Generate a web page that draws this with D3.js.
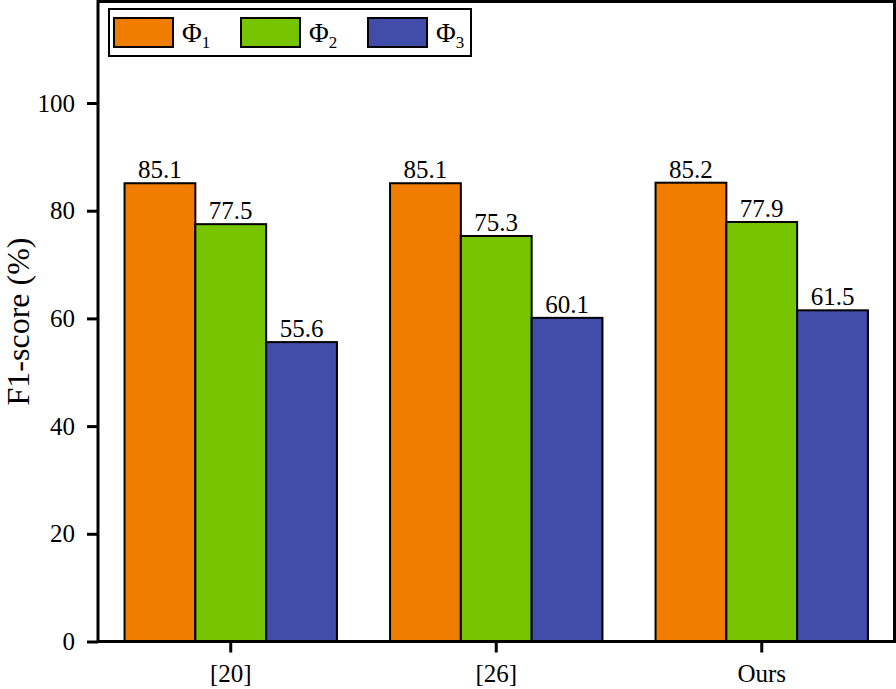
<!DOCTYPE html>
<html>
<head>
<meta charset="utf-8">
<script src="https://cdn.jsdelivr.net/npm/d3@7"></script>
<style>
  html, body { margin: 0; padding: 0; background: #fff; }
  svg { display: block; }
</style>
</head>
<body>
<svg id="chart" width="896" height="689"></svg>
<script>
const categories = ["[20]", "[26]", "Ours"];
const seriesNames = ["Φ1", "Φ2", "Φ3"];
const seriesSubs = ["1", "2", "3"];
const phi1 = [85.1, 85.1, 85.2];
const phi2 = [77.5, 75.3, 77.9];
const phi3 = [55.6, 60.1, 61.5];
const yTicks = [0, 20, 40, 60, 80, 100];
const colors = ["#F07C00", "#76C500", "#424CA9"];

const seriesValues = [phi1, phi2, phi3];
const FONT = "'Liberation Serif', 'DejaVu Serif', serif";

const svg = d3.select("#chart");
const pLeft = 98, pRight = 894.5, pTop = 1.5, pBottom = 641.5;

const x = d3.scaleBand().domain(categories).range([pLeft, pRight]).paddingInner(0.2).paddingOuter(0.1);
const xs = d3.scaleBand().domain(d3.range(3)).range([0, x.bandwidth()]);
const y = d3.scaleLinear().domain([0, 100]).range([pBottom, 103]);

// bars
const groups = svg.append("g").selectAll("g").data(categories).join("g")
  .attr("transform", d => `translate(${x(d)},0)`);
groups.selectAll("rect")
  .data((d, i) => seriesValues.map((s, k) => ({k, v: s[i]})))
  .join("rect")
  .attr("x", d => xs(d.k))
  .attr("y", d => y(d.v))
  .attr("width", xs.bandwidth())
  .attr("height", d => y(0) - y(d.v))
  .attr("fill", d => colors[d.k])
  .attr("stroke", "#000")
  .attr("stroke-width", 2);
groups.selectAll("text.val")
  .data((d, i) => seriesValues.map((s, k) => ({k, v: s[i]})))
  .join("text")
  .attr("class", "val")
  .attr("x", d => xs(d.k) + xs.bandwidth() / 2)
  .attr("y", d => y(d.v) - 5)
  .attr("text-anchor", "middle")
  .style("font-family", FONT)
  .style("font-size", "25px")
  .text(d => d.v.toFixed(1));

// frame
svg.append("rect")
  .attr("x", pLeft).attr("y", pTop)
  .attr("width", pRight - pLeft).attr("height", pBottom - pTop)
  .attr("fill", "none").attr("stroke", "#000").attr("stroke-width", 3);

// y axis
const ya = svg.append("g").attr("transform", `translate(${pLeft},0)`)
  .call(d3.axisLeft(y).tickValues(yTicks).tickSize(11).tickSizeOuter(0).tickPadding(12));
ya.attr("font-family", null).attr("font-size", null);
ya.select(".domain").remove();
ya.selectAll(".tick line").attr("stroke", "#000").attr("stroke-width", 3);
ya.selectAll(".tick text").style("font-family", FONT).style("font-size", "25px").attr("fill", "#000");

// x axis
const xa = svg.append("g").attr("transform", `translate(0,${pBottom})`)
  .call(d3.axisBottom(x).tickSize(11).tickSizeOuter(0).tickPadding(12));
xa.attr("font-family", null).attr("font-size", null);
xa.select(".domain").remove();
xa.selectAll(".tick line").attr("stroke", "#000").attr("stroke-width", 3);
xa.selectAll(".tick text").style("font-family", FONT).style("font-size", "25px").attr("fill", "#000");

// y title
svg.append("text")
  .attr("transform", `translate(29,${(pTop + pBottom) / 2}) rotate(-90)`)
  .attr("text-anchor", "middle")
  .style("font-family", FONT)
  .style("font-size", "32px")
  .text("F1-score (%)");

// legend
const lg = svg.append("g");
lg.append("rect").attr("x", 109).attr("y", 9).attr("width", 362).attr("height", 47)
  .attr("fill", "#fff").attr("stroke", "#000").attr("stroke-width", 2);
const lx = d3.scaleLinear().domain([0, 1]).range([114, 241]);
seriesNames.forEach((n, i) => {
  const x0 = lx(i);
  lg.append("rect").attr("x", x0).attr("y", 18).attr("width", 59).attr("height", 29)
    .attr("fill", colors[i]).attr("stroke", "#000").attr("stroke-width", 2);
  const t = lg.append("text").attr("x", x0 + 68).attr("y", 42)
    .style("font-family", FONT).style("font-size", "27px");
  t.append("tspan").text("Φ");
  t.append("tspan").attr("dy", 6).style("font-size", "17px").text(seriesSubs[i]);
});
</script>
</body>
</html>
